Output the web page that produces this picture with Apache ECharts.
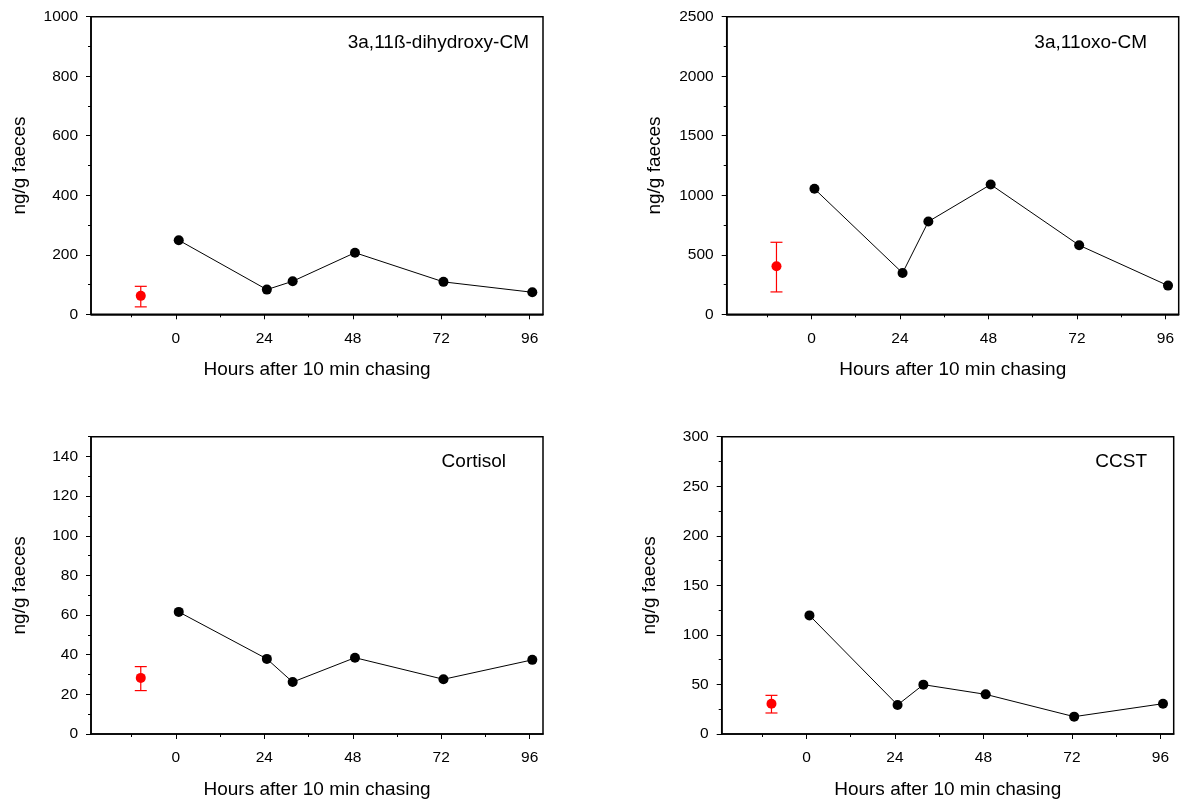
<!DOCTYPE html>
<html>
<head>
<meta charset="utf-8">
<script src="https://cdn.jsdelivr.net/npm/echarts@6/dist/echarts.min.js"></script>
<style>
html,body{margin:0;padding:0;background:#fff;}
#chart{width:1181px;height:803px;}
</style>
</head>
<body>
<div id="chart"></div>
<script>
// ---- data ----
const hours = [0.8, 24.7, 31.7, 48.6, 72.6, 96.7];
const baselineHour = -9.5;
const xTickHours = [0, 24, 48, 72, 96];
const xMinorHours = [-12, 12, 36, 60, 84];
const xMin = -23, xMax = 99.6;

const titles = ['3a,11ß-dihydroxy-CM', '3a,11oxo-CM', 'Cortisol', 'CCST'];
const xName = 'Hours after 10 min chasing';
const yName = 'ng/g faeces';

const cm11bValues = [249, 83, 111, 207, 109, 74];
const cm11bBaseline = [62, 25, 94]; // mean, low, high
const oxoValues = [1054, 347, 779, 1090, 580, 241];
const oxoBaseline = [404, 188, 605];
const cortisolValues = [61.6, 37.9, 26.2, 38.5, 27.6, 37.4];
const cortisolBaseline = [28.3, 21.9, 34];
const ccstValues = [119.7, 29.3, 49.8, 40, 17.5, 30.6];
const ccstBaseline = [30.6, 21.2, 39];

const yTicks1 = [0, 200, 400, 600, 800, 1000];
const yMinor1 = [100, 300, 500, 700, 900];
const yTicks2 = [0, 500, 1000, 1500, 2000, 2500];
const yMinor2 = [250, 750, 1250, 1750, 2250];
const yTicks3 = [0, 20, 40, 60, 80, 100, 120, 140];
const yMinor3 = [10, 30, 50, 70, 90, 110, 130, 150];
const yTicks4 = [0, 50, 100, 150, 200, 250, 300];
const yMinor4 = [25, 75, 125, 175, 225, 275];
const yMax = [1000, 2500, 150, 300];

// ---- layout ----
const FONT = 'Arial, "Liberation Sans", sans-serif';
const grids = [
  {left: 91, top: 16.7, width: 452, height: 297.6},
  {left: 726.7, top: 16.7, width: 452, height: 297.6},
  {left: 91, top: 436.7, width: 452, height: 297.3},
  {left: 721.7, top: 436.7, width: 452, height: 297.3}
];
const titlePos = [
  {right: 652, top: 32},
  {right: 34, top: 32},
  {right: 675, top: 451},
  {right: 34, top: 451}
];
const panels = [
  {vals: cm11bValues, base: cm11bBaseline, ticks: yTicks1, minor: yMinor1},
  {vals: oxoValues, base: oxoBaseline, ticks: yTicks2, minor: yMinor2},
  {vals: cortisolValues, base: cortisolBaseline, ticks: yTicks3, minor: yMinor3},
  {vals: ccstValues, base: ccstBaseline, ticks: yTicks4, minor: yMinor4}
];

const option = {
  backgroundColor: '#fff',
  animation: false,
  textStyle: {fontFamily: FONT},
  title: [], grid: [], xAxis: [], yAxis: [], series: []
};

const axisLineStyle = {color: '#000', width: 1.5};
const plain = v => String(v);

panels.forEach((p, i) => {
  const g = grids[i];
  option.grid.push(Object.assign({show: true, borderColor: '#000', borderWidth: 1.5, backgroundColor: 'transparent'}, g));
  option.title.push(Object.assign({
    text: titles[i], padding: 0,
    textStyle: {fontFamily: FONT, fontSize: 19, fontWeight: 'normal', color: '#000', lineHeight: 21}
  }, titlePos[i]));
  // major x axis
  option.xAxis.push({
    type: 'value', gridIndex: i, min: xMin, max: xMax, position: 'bottom',
    name: xName, nameLocation: 'middle', nameGap: 46,
    nameTextStyle: {fontFamily: FONT, fontSize: 19, color: '#000'},
    axisLine: {show: true, onZero: false, lineStyle: axisLineStyle},
    axisTick: {show: true, length: 5, inside: false, customValues: xTickHours, lineStyle: {color: '#000', width: 1}},
    axisLabel: {show: true, margin: 16, customValues: xTickHours, formatter: plain, fontFamily: FONT, fontSize: 15.5, color: '#000'},
    splitLine: {show: false}
  });
  // minor x axis
  option.xAxis.push({
    type: 'value', gridIndex: i, min: xMin, max: xMax, position: 'bottom',
    axisLine: {show: false, onZero: false},
    axisTick: {show: true, length: 3, customValues: xMinorHours, lineStyle: {color: '#000', width: 1}},
    axisLabel: {show: false},
    splitLine: {show: false}
  });
  // major y axis
  option.yAxis.push({
    type: 'value', gridIndex: i, min: 0, max: yMax[i], position: 'left',
    name: yName, nameLocation: 'middle', nameGap: 62,
    nameTextStyle: {fontFamily: FONT, fontSize: 19, color: '#000'},
    axisLine: {show: true, onZero: false, lineStyle: axisLineStyle},
    axisTick: {show: true, length: 5, customValues: p.ticks, lineStyle: {color: '#000', width: 1}},
    axisLabel: {show: true, margin: 13, customValues: p.ticks, formatter: plain, fontFamily: FONT, fontSize: 15.5, color: '#000'},
    splitLine: {show: false}
  });
  // minor y axis
  option.yAxis.push({
    type: 'value', gridIndex: i, min: 0, max: yMax[i], position: 'left',
    axisLine: {show: false, onZero: false},
    axisTick: {show: true, length: 3, customValues: p.minor, lineStyle: {color: '#000', width: 1}},
    axisLabel: {show: false},
    splitLine: {show: false}
  });

  const xi = i * 2, yi = i * 2;
  option.series.push({
    type: 'line', xAxisIndex: xi, yAxisIndex: yi,
    data: hours.map((h, k) => [h, p.vals[k]]),
    symbol: 'circle', symbolSize: 10,
    lineStyle: {color: '#000', width: 1},
    itemStyle: {color: '#000', opacity: 1},
    z: 3
  });
  option.series.push({
    type: 'custom', xAxisIndex: xi, yAxisIndex: yi,
    data: [[baselineHour, p.base[1], p.base[2]]],
    renderItem: function (params, api) {
      const x = api.value(0);
      const lo = api.coord([x, api.value(1)]);
      const hi = api.coord([x, api.value(2)]);
      const cap = 6;
      const st = {stroke: '#ff0000', lineWidth: 1.2};
      return {type: 'group', children: [
        {type: 'line', shape: {x1: lo[0], y1: lo[1], x2: hi[0], y2: hi[1]}, style: st},
        {type: 'line', shape: {x1: lo[0] - cap, y1: lo[1], x2: lo[0] + cap, y2: lo[1]}, style: st},
        {type: 'line', shape: {x1: hi[0] - cap, y1: hi[1], x2: hi[0] + cap, y2: hi[1]}, style: st}
      ]};
    },
    z: 2
  });
  option.series.push({
    type: 'scatter', xAxisIndex: xi, yAxisIndex: yi,
    data: [[baselineHour, p.base[0]]],
    symbol: 'circle', symbolSize: 10,
    itemStyle: {color: '#ff0000', opacity: 1},
    z: 4
  });
});

const chart = echarts.init(document.getElementById('chart'), null, {renderer: 'canvas'});
chart.setOption(option);
</script>
</body>
</html>
